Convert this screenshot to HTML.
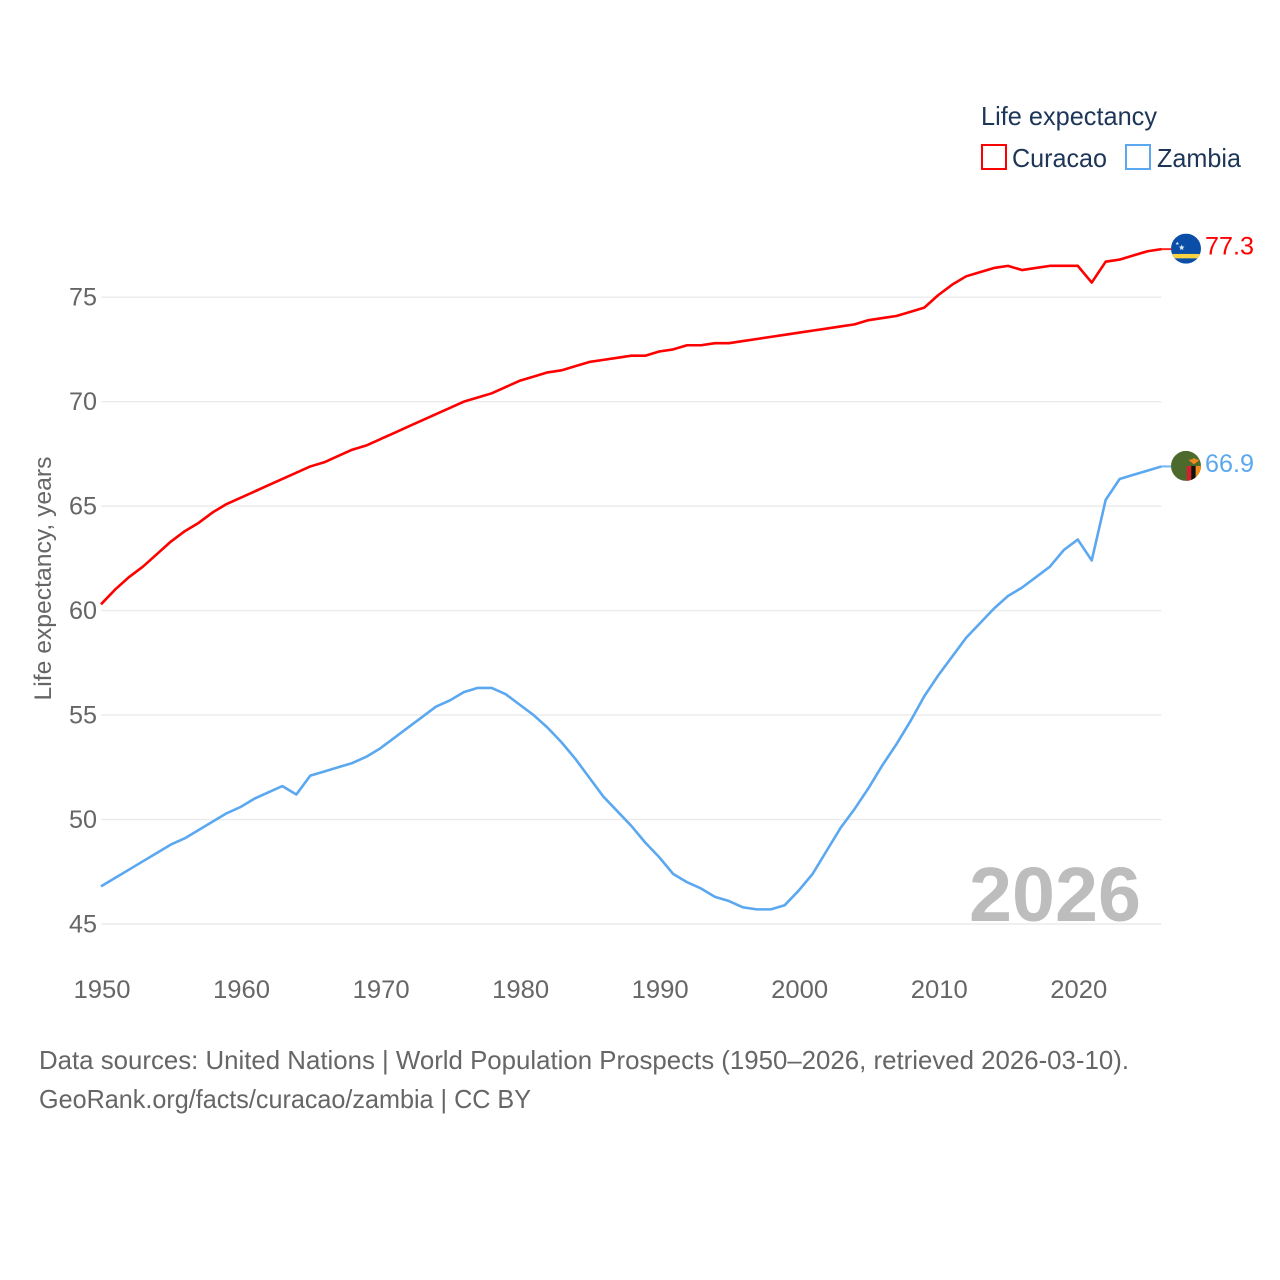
<!DOCTYPE html>
<html lang="en">
<head>
<meta charset="utf-8">
<title>Life expectancy: Curacao and Zambia</title>
<style>
html,body{margin:0;padding:0;background:#fff;}
svg{display:block;font-family:"Liberation Sans",Arial,sans-serif;}
</style>
</head>
<body>
<svg id="chart" xmlns="http://www.w3.org/2000/svg" width="1280" height="1280" viewBox="0 0 1280 1280">
  <rect x="0" y="0" width="1280" height="1280" fill="#fff"/>
  <defs>
    <clipPath id="flag-clip"><circle cx="0" cy="0" r="15"/></clipPath>
  </defs>
  <g id="grid"></g>
  <g id="yticks"></g>
  <g id="xticks"></g>
  <text transform="translate(51,700.5) rotate(-90)" font-size="24" fill="#666" textLength="244" lengthAdjust="spacingAndGlyphs">Life expectancy, years</text>
  <text x="969" y="921" font-size="77" font-weight="700" fill="#bdbdbd" textLength="172" lengthAdjust="spacingAndGlyphs">2026</text>
  <g id="series"></g>

  <g id="flag-curacao">
    <g clip-path="url(#flag-clip)">
      <rect x="-15" y="-15" width="30" height="30" fill="#0a4ea8"/>
      <rect x="-15" y="5.3" width="30" height="4.4" fill="#f9d342"/>
      <polygon points="-4.3,-4.1 -3.5,-2.1 -1.5,-2 -3,-0.7 -2.6,1.4 -4.3,0.3 -6,1.4 -5.6,-0.7 -7.1,-2 -5.1,-2.1" fill="#dfe8f5"/>
      <polygon points="-8.7,-7 -8.2,-5.8 -7,-5.7 -7.9,-4.9 -7.6,-3.7 -8.7,-4.4 -9.8,-3.7 -9.5,-4.9 -10.4,-5.7 -9.2,-5.8" fill="#dfe8f5"/>
    </g>
  </g>
  <g id="flag-zambia">
    <g clip-path="url(#flag-clip)">
      <rect x="-15" y="-15" width="30" height="30" fill="#4b6a2c"/>
      <rect x="0.7" y="0" width="4.6" height="15" fill="#d2222d"/>
      <rect x="5.3" y="0" width="4.4" height="15" fill="#111"/>
      <rect x="9.7" y="0" width="5.3" height="15" fill="#f08a1c"/>
      <path d="M2.5 -6 L6 -6.5 L8 -8 L10 -6.5 L13.5 -6 L10.5 -3.5 L8 -1.5 L5.5 -3.5 Z" fill="#f08a1c"/>
    </g>
  </g>
  <text id="label-curacao" x="1205" font-size="25" fill="#ff0000" textLength="49" lengthAdjust="spacingAndGlyphs"></text>
  <text id="label-zambia" x="1205" font-size="25" fill="#5ba8f0" textLength="49" lengthAdjust="spacingAndGlyphs"></text>

  <g>
    <text x="981" y="125" font-size="26" fill="#1d3557" textLength="176" lengthAdjust="spacingAndGlyphs">Life expectancy</text>
    <rect x="982" y="145" width="24" height="24" fill="#fff" stroke="#ff0000" stroke-width="2"/>
    <text x="1012" y="167" font-size="26" fill="#1d3557" textLength="95" lengthAdjust="spacingAndGlyphs">Curacao</text>
    <rect x="1126" y="145" width="24" height="24" fill="#fff" stroke="#5ba8f0" stroke-width="2"/>
    <text x="1157" y="167" font-size="26" fill="#1d3557" textLength="84" lengthAdjust="spacingAndGlyphs">Zambia</text>
  </g>

  <text x="39" y="1069" font-size="26" fill="#666" textLength="1090" lengthAdjust="spacingAndGlyphs">Data sources: United Nations | World Population Prospects (1950–2026, retrieved 2026-03-10).</text>
  <text x="39" y="1108" font-size="26" fill="#666" textLength="492" lengthAdjust="spacingAndGlyphs">GeoRank.org/facts/curacao/zambia | CC BY</text>
</svg>
<script>
const startYear = 1950;
const endYear = 2026;
const xTickLabels = [1950, 1960, 1970, 1980, 1990, 2000, 2010, 2020];
const yTickLabels = [45, 50, 55, 60, 65, 70, 75];
const curacaoValues = [
  60.3, 61.0, 61.6, 62.1, 62.7, 63.3, 63.8, 64.2, 64.7, 65.1,
  65.4, 65.7, 66.0, 66.3, 66.6, 66.9, 67.1, 67.4, 67.7, 67.9,
  68.2, 68.5, 68.8, 69.1, 69.4, 69.7, 70.0, 70.2, 70.4, 70.7,
  71.0, 71.2, 71.4, 71.5, 71.7, 71.9, 72.0, 72.1, 72.2, 72.2,
  72.4, 72.5, 72.7, 72.7, 72.8, 72.8, 72.9, 73.0, 73.1, 73.2,
  73.3, 73.4, 73.5, 73.6, 73.7, 73.9, 74.0, 74.1, 74.3, 74.5,
  75.1, 75.6, 76.0, 76.2, 76.4, 76.5, 76.3, 76.4, 76.5, 76.5,
  76.5, 75.7, 76.7, 76.8, 77.0, 77.2, 77.3
];
const zambiaValues = [
  46.8, 47.2, 47.6, 48.0, 48.4, 48.8, 49.1, 49.5, 49.9, 50.3,
  50.6, 51.0, 51.3, 51.6, 51.2, 52.1, 52.3, 52.5, 52.7, 53.0,
  53.4, 53.9, 54.4, 54.9, 55.4, 55.7, 56.1, 56.3, 56.3, 56.0,
  55.5, 55.0, 54.4, 53.7, 52.9, 52.0, 51.1, 50.4, 49.7, 48.9,
  48.2, 47.4, 47.0, 46.7, 46.3, 46.1, 45.8, 45.7, 45.7, 45.9,
  46.6, 47.4, 48.5, 49.6, 50.5, 51.5, 52.6, 53.6, 54.7, 55.9,
  56.9, 57.8, 58.7, 59.4, 60.1, 60.7, 61.1, 61.6, 62.1, 62.9,
  63.4, 62.4, 65.3, 66.3, 66.5, 66.7, 66.9
];

const NS = 'http://www.w3.org/2000/svg';
const plotLeft = 101, plotRight = 1161.5;
const yAt45 = 924, yAt75 = 297.2;
function xScale(year) {
  return plotLeft + (year - startYear) / (endYear - startYear) * (plotRight - plotLeft);
}
function yScale(value) {
  return yAt45 + (value - 45) / 30 * (yAt75 - yAt45);
}
function make(tag, attrs, parent, text) {
  const el = document.createElementNS(NS, tag);
  for (const k in attrs) el.setAttribute(k, attrs[k]);
  if (text !== undefined) el.textContent = text;
  parent.appendChild(el);
  return el;
}

const grid = document.getElementById('grid');
const yticks = document.getElementById('yticks');
const xticks = document.getElementById('xticks');
const series = document.getElementById('series');

yTickLabels.forEach(function (v) {
  const line = make('line', {x1: plotLeft, x2: plotRight, y1: yScale(v), y2: yScale(v), stroke: '#ebebeb', 'stroke-width': 1.4}, grid);
  
  
  const label = make('text', {x: 97, y: yScale(v) + 8.5, 'text-anchor': 'end', 'font-size': 25, fill: '#666', textLength: 28, lengthAdjust: 'spacingAndGlyphs'}, yticks, String(v));
  
  
});

xTickLabels.forEach(function (yr) {
  const label = make('text', {x: xScale(yr) + 1, y: 998, 'text-anchor': 'middle', 'font-size': 25, fill: '#666', textLength: 57, lengthAdjust: 'spacingAndGlyphs'}, xticks, String(yr));
  
  
});

function drawSeries(values, color, seriesName, flagId, labelId) {
  const pts = values.map(function (v, i) {
    return xScale(startYear + i).toFixed(2) + ',' + yScale(v).toFixed(2);
  }).join(' ');
  const line = make('polyline', {points: pts, fill: 'none', stroke: color, 'stroke-width': 2.6, 'stroke-linejoin': 'round', 'stroke-linecap': 'butt'}, series);
  
  
  const last = values[values.length - 1];
  const yEnd = yScale(last);
  const connector = make('line', {x1: xScale(endYear), x2: 1171, y1: yEnd, y2: yEnd, stroke: color, 'stroke-width': 2, opacity: 0.85}, series);
  
  
  document.getElementById(flagId).setAttribute('transform', 'translate(1186,' + (yEnd - 0.5) + ')');
  const label = document.getElementById(labelId);
  label.setAttribute('y', yEnd + 5.5);
  label.textContent = last.toFixed(1);
}
drawSeries(curacaoValues, '#ff0000', 'curacao', 'flag-curacao', 'label-curacao');
drawSeries(zambiaValues, '#5ba8f0', 'zambia', 'flag-zambia', 'label-zambia');
</script>
</body>
</html>
